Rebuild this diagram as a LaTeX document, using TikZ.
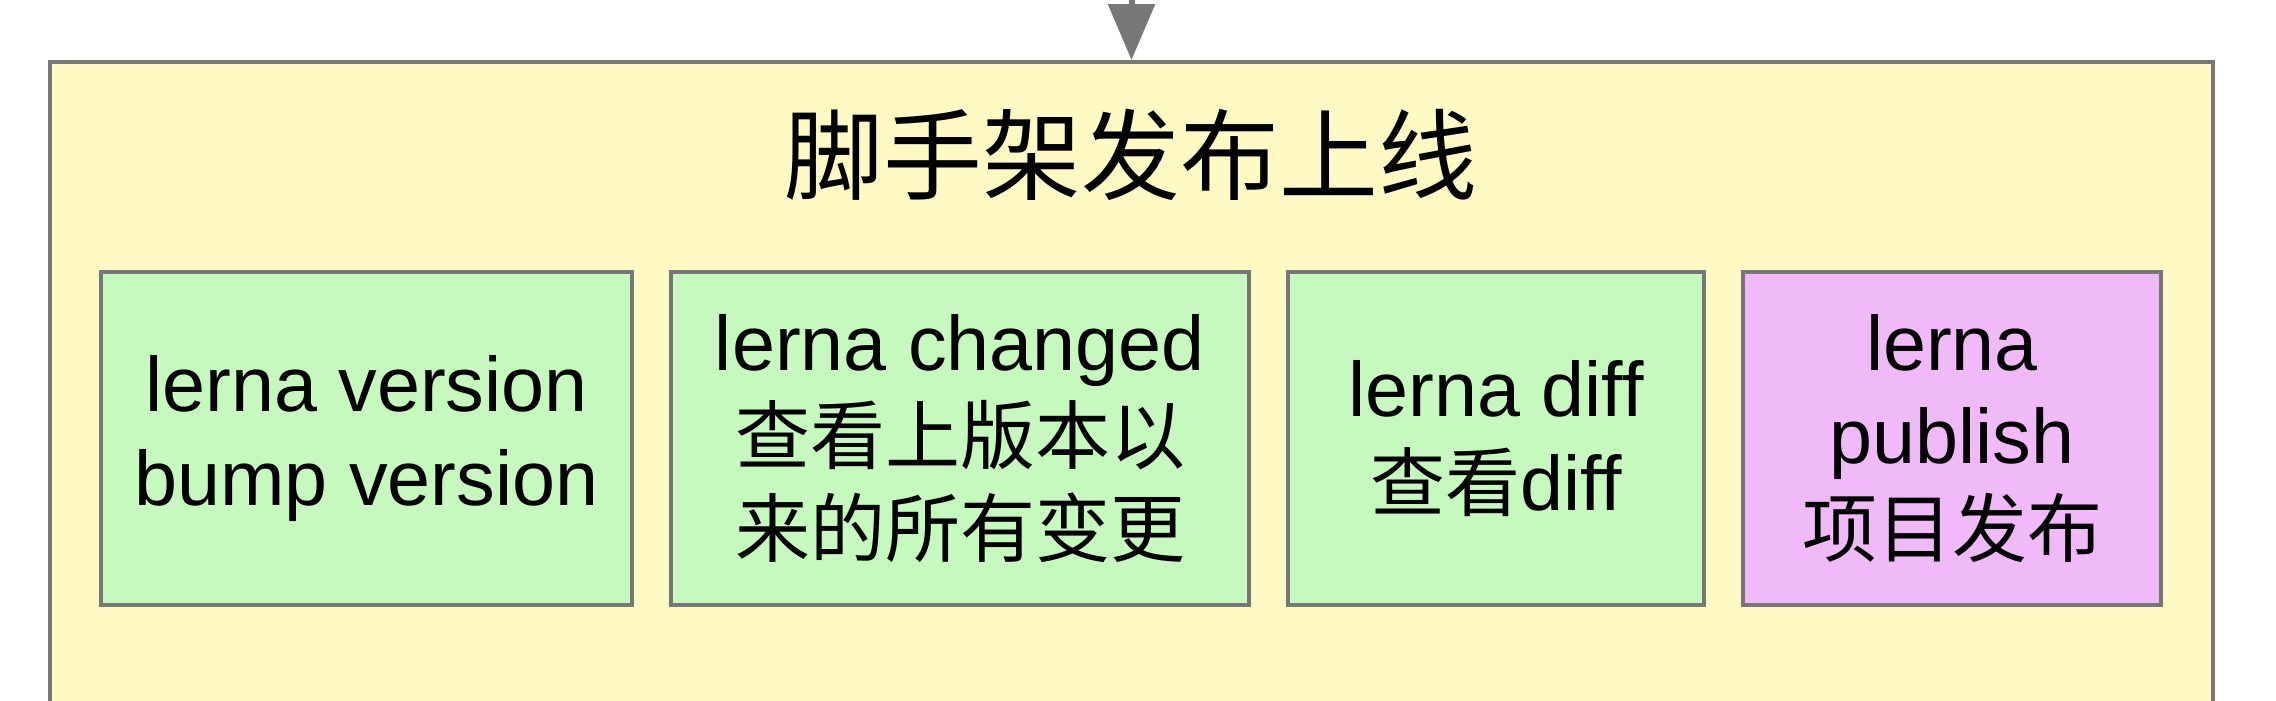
\documentclass[tikz,border=0pt]{standalone}
\usepackage{fontspec}
\setmainfont{Liberation Sans}
\newfontfamily\cjk{Noto Sans CJK SC}[Scale=0.97]
\usetikzlibrary{arrows.meta,positioning}

\definecolor{stagefill}{HTML}{FFFAC4}
\definecolor{cmdgreen}{HTML}{C6F9BE}
\definecolor{cmdpink}{HTML}{F0B9F7}
\definecolor{edgegray}{HTML}{777777}

\begin{document}
\begin{tikzpicture}[>={Triangle[length=0.56cm,width=0.46cm]},node distance=0.35cm,
  cmd/.style={draw=edgegray,line width=0.04cm,fill=cmdgreen,minimum height=3.33cm,
    inner sep=0pt,align=center,font=\fontsize{22}{26.5}\selectfont}]
  \useasboundingbox (0,0) rectangle (22.76,7);
  \clip (0,0) rectangle (22.76,7);
  % publishing stage, it runs on below the page
  \node[draw=edgegray,line width=0.04cm,fill=stagefill,minimum width=21.63cm,
    minimum height=7.4cm] (stage) at (11.315,2.68) {};
  \node[font=\cjk\fontsize{29}{34}\selectfont] (title) at (11.31,5.45) {脚手架发布上线};
  % the four lerna commands, side by side
  \node[cmd,minimum width=5.31cm] (version) at (3.665,2.615) {lerna version\\bump version};
  \node[cmd,minimum width=5.78cm,right=of version] (changed)
    {lerna changed\\{\cjk 查看上版本以}\\{\cjk 来的所有变更}};
  \node[cmd,minimum width=4.16cm,right=of changed] (diff) {lerna diff\\{\cjk 查看}diff};
  \node[cmd,fill=cmdpink,minimum width=4.18cm,right=of diff] (publish)
    {lerna\\publish\\{\cjk 项目发布}};
  % flow coming in from the stage above
  \coordinate (prev) at (11.315,7.1);
  \draw[->,edgegray,line width=0.06cm] (prev) -- (stage.north);
\end{tikzpicture}
\end{document}
